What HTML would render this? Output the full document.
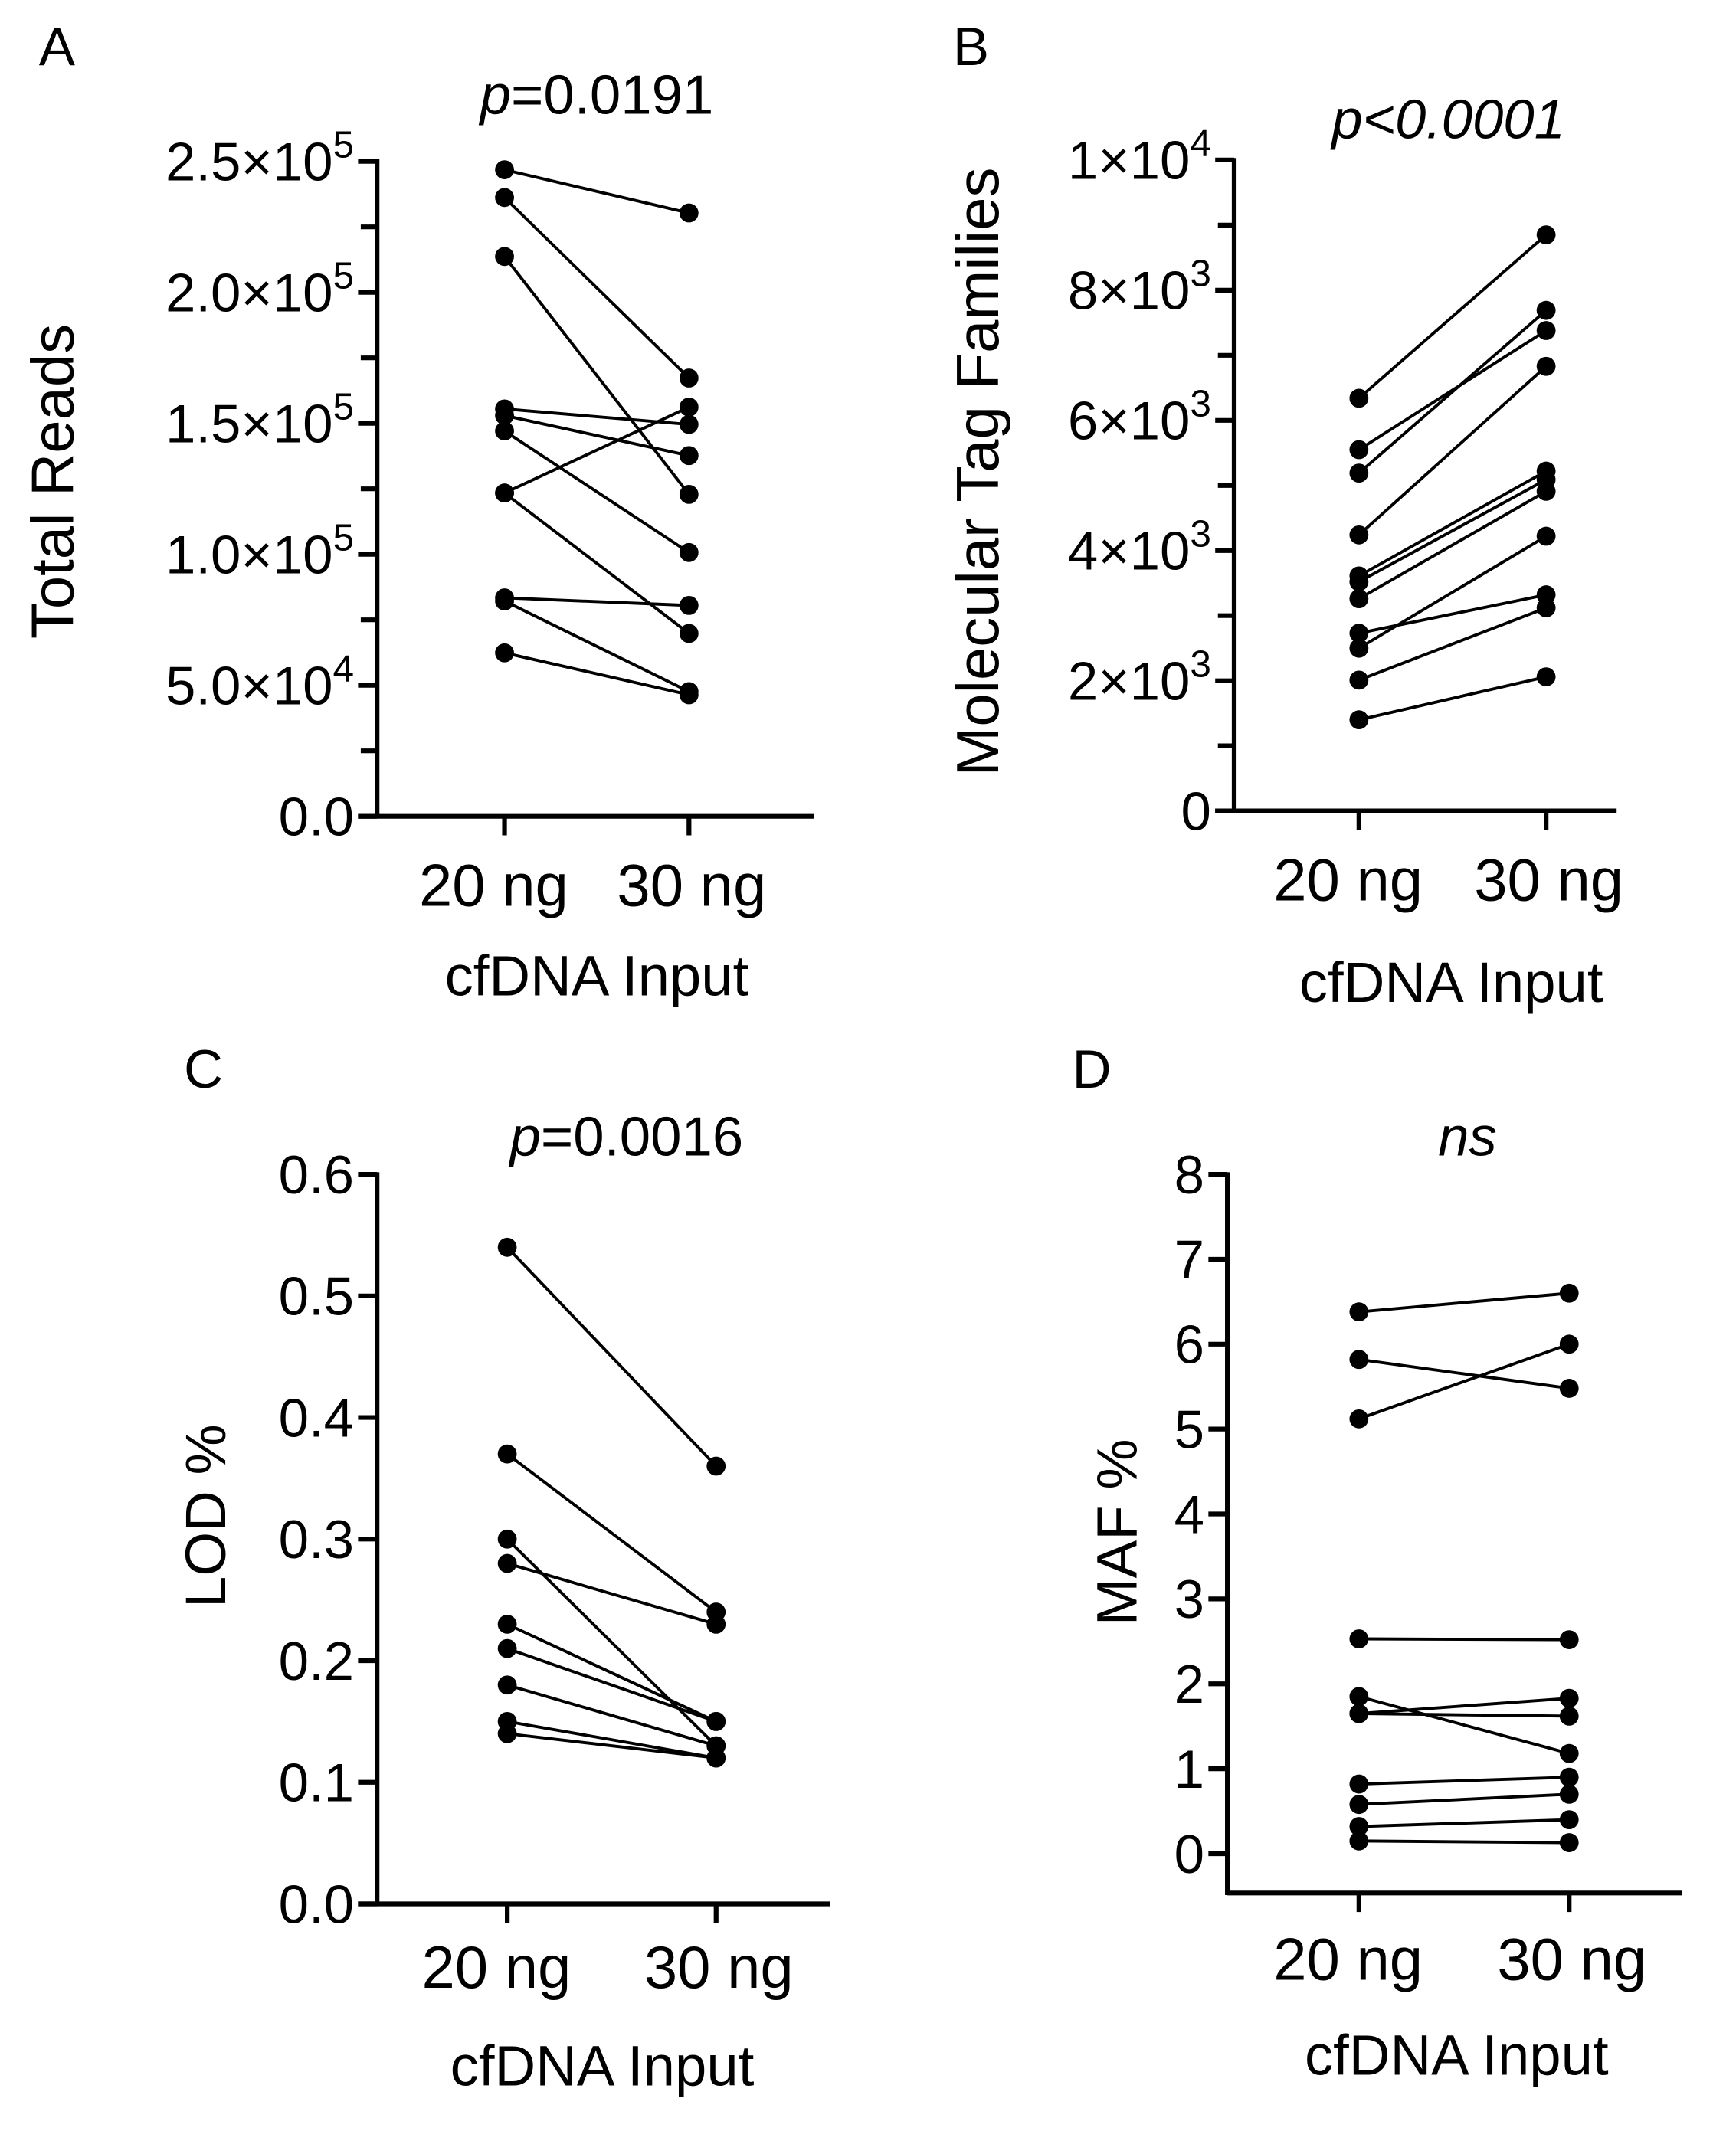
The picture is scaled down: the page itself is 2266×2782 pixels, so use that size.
<!DOCTYPE html>
<html><head><meta charset="utf-8"><style>
html,body{margin:0;padding:0;background:#fff;}
svg{display:block;font-family:"Liberation Sans",Arial,sans-serif;}
</style></head><body>
<svg id="fig" xmlns="http://www.w3.org/2000/svg" width="2266" height="2782" viewBox="0 0 1280 1571.5">
<rect width="1280" height="1571.5" fill="#fff"/>
</svg>
<script>
// Panel A: Total Reads (x1e5)
const categories = ["20 ng", "30 ng"];
const aLeft  = [2.468, 2.362, 2.137, 1.555, 1.530, 1.471, 1.234, 1.234, 0.834, 0.822, 0.624];
const aRight = [2.303, 1.673, 1.229, 1.496, 1.377, 1.007, 1.562, 0.698, 0.805, 0.476, 0.464];
const aTicks = ["0.0", "5.0×10|4", "1.0×10|5", "1.5×10|5", "2.0×10|5", "2.5×10|5"];
// Panel B: Molecular Tag Families (x1e3)
const bLeft  = [6.34, 5.55, 5.19, 4.24, 3.61, 3.52, 3.26, 2.73, 2.50, 2.01, 1.40];
const bRight = [8.85, 7.38, 7.69, 6.83, 5.22, 5.09, 4.91, 3.32, 4.22, 3.12, 2.06];
const bTicks = ["0", "2×10|3", "4×10|3", "6×10|3", "8×10|3", "1×10|4"];
// Panel C: LOD %
const cLeft  = [0.54, 0.37, 0.30, 0.28, 0.23, 0.21, 0.18, 0.15, 0.14];
const cRight = [0.36, 0.24, 0.13, 0.23, 0.15, 0.15, 0.13, 0.12, 0.12];
const cTicks = ["0.0", "0.1", "0.2", "0.3", "0.4", "0.5", "0.6"];
// Panel D: MAF %
const dLeft  = [6.38, 5.82, 5.12, 2.53, 1.85, 1.65, 1.65, 0.82, 0.58, 0.32, 0.15];
const dRight = [6.60, 5.48, 6.00, 2.52, 1.18, 1.83, 1.62, 0.90, 0.70, 0.40, 0.13];
const dTicks = ["0", "1", "2", "3", "4", "5", "6", "7", "8"];

const NS = "http://www.w3.org/2000/svg";
const svg = document.getElementById("fig");
function mk(tag, attrs, parent) {
  const e = document.createElementNS(NS, tag);
  for (const k in attrs) e.setAttribute(k, attrs[k]);
  (parent || svg).appendChild(e);
  return e;
}
function txt(x, y, s, size, anchor, parent) {
  const t = mk("text", {x: x, y: y, "font-size": size, "text-anchor": anchor || "middle", fill: "#000"}, parent);
  t.textContent = s;
  return t;
}
function tickLabel(g, x, y, s) {
  const parts = s.split("|");
  const t = mk("text", {x: x, y: y, "font-size": 40, "text-anchor": "end", fill: "#000"}, g);
  
  
  if (parts.length === 1) { t.textContent = s; return; }
  const a = document.createElementNS(NS, "tspan"); a.textContent = parts[0]; t.appendChild(a);
  const b = document.createElementNS(NS, "tspan"); b.textContent = parts[1];
  b.setAttribute("font-size", 28); b.setAttribute("dy", -17); t.appendChild(b);
}

function panel(o) {
  const g = mk("g", {});
  
  
  const yS = v => o.y0 - (v - o.vmin) / (o.vmax - o.vmin) * (o.y0 - o.yTop);
  const xS = i => o.cx[i];
  const L = txt(o.letterX, o.letterY, o.letter, 40, "middle", g);
  
  
  const P = txt(o.pX, o.pY, "", 41, "middle", g);
  
  
  if (o.pItalicAll) { P.setAttribute("font-style", "italic"); P.textContent = o.pText; }
  else {
    const s1 = document.createElementNS(NS, "tspan"); s1.setAttribute("font-style", "italic"); s1.textContent = "p"; P.appendChild(s1);
    const s2 = document.createElementNS(NS, "tspan"); s2.textContent = o.pText; P.appendChild(s2);
  }
  const ya = mk("line", {x1: o.ax, x2: o.ax, y1: o.yTop - 1.5, y2: o.xAxisY + 1.5, stroke: "#000", "stroke-width": 3.5}, g);
  
  
  const xa = mk("line", {x1: o.ax - (o.xAxisY === o.y0 ? 14 : 0), x2: o.axEnd, y1: o.xAxisY, y2: o.xAxisY, stroke: "#000", "stroke-width": 3.5}, g);
  
  
  const n = o.ticks.length;
  for (let i = 0; i < n; i++) {
    const v = o.vmin + i * o.major;
    const y = yS(v);
    const tk = mk("line", {x1: o.ax - 14, x2: o.ax, y1: y, y2: y, stroke: "#000", "stroke-width": 3.5}, g);
    
    
    tickLabel(g, o.ax - 17, y + 14, o.ticks[i]);
    if (o.minor && i < n - 1) {
      const ym = yS(v + o.major / 2);
      const mt = mk("line", {x1: o.ax - 12, x2: o.ax, y1: ym, y2: ym, stroke: "#000", "stroke-width": 3.5}, g);
      
      
    }
  }
  for (let i = 0; i < 2; i++) {
    const xt = mk("line", {x1: xS(i), x2: xS(i), y1: o.xAxisY, y2: o.xAxisY + 14, stroke: "#000", "stroke-width": 3.5}, g);
    
    
    const xl = txt(xS(i) + (i === 0 ? -8 : 2), o.xLabY, categories[i], 44, "middle", g);
    
    
  }
  const xt = txt(o.xTitleX, o.xTitleY, "cfDNA Input", 42, "middle", g);
  
  
  const yt = txt(0, 0, o.yTitle, o.yTitleSize || 42, "middle", g);
  yt.setAttribute("transform", "translate(" + o.yTitleX + "," + o.yTitleY + ") rotate(-90)");
  
  
  for (let k = 0; k < o.left.length; k++) {
    const ln = mk("line", {x1: xS(0), y1: yS(o.left[k]), x2: xS(1), y2: yS(o.right[k]), stroke: "#000", "stroke-width": 2.2}, g);
    
    
  }
  for (let k = 0; k < o.left.length; k++) {
    const c1 = mk("circle", {cx: xS(0), cy: yS(o.left[k]), r: 7, fill: "#000"}, g);
    
    
    const c2 = mk("circle", {cx: xS(1), cy: yS(o.right[k]), r: 7, fill: "#000"}, g);
    
    
  }
}

panel({name: "panel-a-total-reads", letter: "A", letterX: 42, letterY: 48, pText: "=0.0191", pX: 440, pY: 84,
  ax: 278, axEnd: 600, y0: 602, yTop: 119, xAxisY: 602, vmin: 0, vmax: 2.5, major: 0.5, minor: true,
  ticks: aTicks, left: aLeft, right: aRight, cx: [372, 508], xLabY: 668, xTitleX: 440, xTitleY: 734,
  yTitle: "Total Reads", yTitleX: 54, yTitleY: 355, yTitleSize: 44});
panel({name: "panel-b-molecular-tag-families", letter: "B", letterX: 716, letterY: 48, pText: "p<0.0001", pItalicAll: true, pX: 1068, pY: 102,
  ax: 910, axEnd: 1192, y0: 598, yTop: 118, xAxisY: 598, vmin: 0, vmax: 10, major: 2, minor: true,
  ticks: bTicks, left: bLeft, right: bRight, cx: [1002, 1140], xLabY: 664, xTitleX: 1070, xTitleY: 739,
  yTitle: "Molecular Tag Families", yTitleX: 736, yTitleY: 348, yTitleSize: 44});
panel({name: "panel-c-lod", letter: "C", letterX: 150, letterY: 802, pText: "=0.0016", pX: 462, pY: 852,
  ax: 278, axEnd: 612, y0: 1404, yTop: 866, xAxisY: 1404, vmin: 0, vmax: 0.6, major: 0.1, minor: false,
  ticks: cTicks, left: cLeft, right: cRight, cx: [374, 528], xLabY: 1466, xTitleX: 444, xTitleY: 1538,
  yTitle: "LOD %", yTitleX: 166, yTitleY: 1118});
panel({name: "panel-d-maf", letter: "D", letterX: 805, letterY: 802, pText: "ns", pItalicAll: true, pX: 1082, pY: 852,
  ax: 905, axEnd: 1240, y0: 1367, yTop: 866, xAxisY: 1396, vmin: 0, vmax: 8, major: 1, minor: false,
  ticks: dTicks, left: dLeft, right: dRight, cx: [1002, 1157], xLabY: 1460, xTitleX: 1074, xTitleY: 1530,
  yTitle: "MAF %", yTitleX: 838, yTitleY: 1130});
</script>
</body></html>
